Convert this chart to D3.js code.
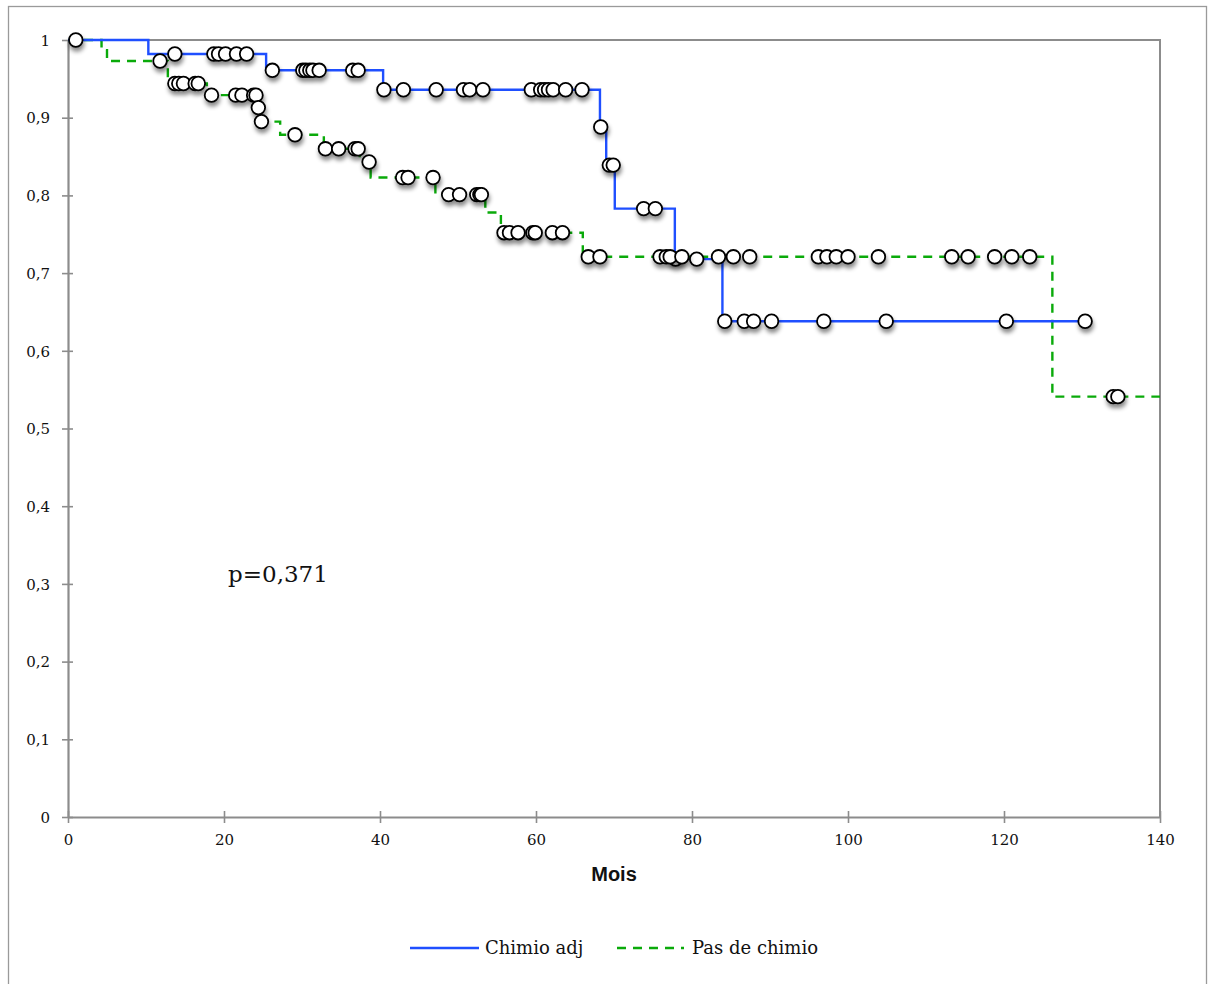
<!DOCTYPE html>
<html>
<head>
<meta charset="utf-8">
<script src="https://cdn.jsdelivr.net/npm/d3@7"></script>
<style>
  html, body { margin: 0; padding: 0; background: #fff; }
  svg { display: block; }
</style>
</head>
<body>
<svg id="chart" width="1212" height="984"></svg>
<script>
// Kaplan-Meier survival: adjuvant chemotherapy vs. none
const xTicks = [0, 20, 40, 60, 80, 100, 120, 140];
const yTicks = [0, 0.1, 0.2, 0.3, 0.4, 0.5, 0.6, 0.7, 0.8, 0.9, 1];
const yTickLabels = ["0", "0,1", "0,2", "0,3", "0,4", "0,5", "0,6", "0,7", "0,8", "0,9", "1"];

// "Chimio adj": step times (months) and survival after each step
const chimioTimes = [0, 10.3, 25.4, 40.4, 68.2, 69.0, 70.1, 77.8, 83.9];
const chimioSurv  = [1, 0.982, 0.961, 0.936, 0.888, 0.839, 0.783, 0.718, 0.638];
const chimioEnd = 130.4;
const chimioCensored = [
  1.0, 13.7, 18.7, 19.3, 20.2, 21.6, 22.9,
  26.2, 30.1, 30.5, 31.0, 31.4, 32.2, 36.5, 37.2,
  40.5, 43.0, 47.2, 50.7, 51.5, 53.2, 59.4, 60.6, 61.1, 61.6, 62.2, 63.8, 65.9,
  68.3, 69.4, 69.9, 73.8, 75.3, 77.9, 80.6,
  84.2, 86.7, 87.9, 90.2, 96.9, 104.9, 120.3, 130.4
];

// "Pas de chimio": step times (months) and survival after each step
const pasTimes = [0, 4.3, 5.0, 12.8, 17.8, 24.25, 24.6, 27.2, 32.8, 37.4, 38.8, 47.1, 53.5, 55.5, 66.0, 126.2];
const pasSurv  = [1, 0.987, 0.973, 0.944, 0.929, 0.913, 0.895, 0.878, 0.860, 0.843, 0.823, 0.801, 0.778, 0.752, 0.721, 0.541];
const pasEnd = 140;
const pasCensored = [
  11.8, 13.7, 14.2, 14.8, 16.3, 16.7,
  18.4, 21.5, 22.3, 23.8, 24.1, 24.4, 24.8,
  29.1, 33.0, 34.7, 36.8, 37.2, 38.6,
  42.9, 43.6, 46.8, 48.8, 50.2, 52.4, 52.8, 53.0,
  55.9, 56.6, 57.7, 59.6, 59.9, 62.1, 63.4,
  66.7, 68.2, 75.9, 76.7, 77.2, 78.7, 83.4, 85.3, 87.4,
  96.2, 97.3, 98.5, 100.0, 103.9, 113.3, 115.4, 118.8, 121.0, 123.3,
  134.0, 134.6
];

const seriesNames = ["Chimio adj", "Pas de chimio"];
const pValueText = "p=0,371";
const xTitle = "Mois";

const svg = d3.select("#chart");
const m = { left: 68, right: 1160, top: 40, bottom: 817 };

const x = d3.scaleLinear().domain([0, 140]).range([m.left, m.right]);
const y = d3.scaleLinear().domain([0, 1]).range([m.bottom, m.top]);

// drop shadow under the censor markers
const defs = svg.append("defs");
const f = defs.append("filter").attr("id", "shadow")
  .attr("x", "-50%").attr("y", "-50%").attr("width", "200%").attr("height", "220%");
f.append("feDropShadow").attr("dx", 1).attr("dy", 4).attr("stdDeviation", 2.2)
  .attr("flood-color", "#000").attr("flood-opacity", 0.45);

// outer frame
svg.append("rect").attr("x", 8.5).attr("y", 6.5).attr("width", 1198).attr("height", 1000)
  .attr("fill", "none").attr("stroke", "#9a9a9a").attr("stroke-width", 1.3);

// plot frame (top and right)
svg.append("path")
  .attr("d", `M${m.left},${m.top}H${m.right}V${m.bottom}`)
  .attr("fill", "none").attr("stroke", "#8c8c8c").attr("stroke-width", 2);

// axes
const serif = "'DejaVu Serif', 'Liberation Serif', serif";
const yAxis = svg.append("g").attr("transform", `translate(${m.left},0)`)
  .call(d3.axisLeft(y).tickValues(yTicks).tickSize(0)
    .tickFormat((d, i) => yTickLabels[i]).tickPadding(18));
const xAxis = svg.append("g").attr("transform", `translate(0,${m.bottom})`)
  .call(d3.axisBottom(x).tickValues(xTicks).tickSize(0).tickPadding(17));

[yAxis, xAxis].forEach(g => {
  g.select(".domain").attr("stroke", "#8c8c8c").attr("stroke-width", 2.2);
  g.selectAll("text").attr("font-family", serif).attr("font-size", 15).attr("fill", "#111");
});
yAxis.selectAll(".tick").append("line")
  .attr("x1", -6).attr("x2", 5).attr("stroke", "#8c8c8c").attr("stroke-width", 1.6);
yAxis.selectAll(".tick text").attr("dy", "0.35em");
xAxis.selectAll(".tick").append("line")
  .attr("y1", -6).attr("y2", 6).attr("stroke", "#8c8c8c").attr("stroke-width", 1.6);

// x title
svg.append("text").attr("x", 614).attr("y", 881).attr("text-anchor", "middle")
  .attr("font-family", "'Liberation Sans', Arial, sans-serif").attr("font-weight", "bold")
  .attr("font-size", 20).attr("fill", "#111").text(xTitle);

// p-value
svg.append("text").attr("x", 228).attr("y", 582)
  .attr("font-family", serif).attr("font-size", 23).attr("fill", "#111").text(pValueText);

function stepPoints(times, surv, end) {
  const pts = times.map((t, i) => [t, surv[i]]);
  pts.push([end, surv[surv.length - 1]]);
  return pts;
}
function survAt(times, surv, t) {
  let s = surv[0];
  for (let i = 0; i < times.length; i++) if (times[i] <= t) s = surv[i];
  return s;
}

const line = d3.line().x(d => x(d[0])).y(d => y(d[1])).curve(d3.curveStepAfter);

const series = [
  { times: chimioTimes, surv: chimioSurv, end: chimioEnd, cens: chimioCensored,
    color: "#1f4fff", dash: null },
  { times: pasTimes, surv: pasSurv, end: pasEnd, cens: pasCensored,
    color: "#0aaa0a", dash: "9,7" }
];

series.slice().reverse().forEach(s => {
  svg.append("path").datum(stepPoints(s.times, s.surv, s.end))
    .attr("d", line).attr("fill", "none").attr("stroke", s.color)
    .attr("stroke-width", 2.4).attr("stroke-dasharray", s.dash);
});

series.forEach(s => {
  svg.append("g").attr("filter", "url(#shadow)")
    .selectAll("circle").data(s.cens).join("circle")
    .attr("cx", t => x(t)).attr("cy", t => y(survAt(s.times, s.surv, t)))
    .attr("r", 6.8).attr("fill", "#fff").attr("stroke", "#000").attr("stroke-width", 1.8);
});

// legend
const legend = svg.append("g");
const legendItems = [
  { x1: 410, x2: 479, tx: 485, name: seriesNames[0], s: series[0] },
  { x1: 617, x2: 684, tx: 692, name: seriesNames[1], s: series[1] }
];
legendItems.forEach(d => {
  legend.append("line").attr("x1", d.x1).attr("x2", d.x2).attr("y1", 948).attr("y2", 948)
    .attr("stroke", d.s.color).attr("stroke-width", 2.4).attr("stroke-dasharray", d.s.dash);
  legend.append("text").attr("x", d.tx).attr("y", 954)
    .attr("font-family", serif).attr("font-size", 18).attr("fill", "#111").text(d.name);
});
</script>
</body>
</html>
